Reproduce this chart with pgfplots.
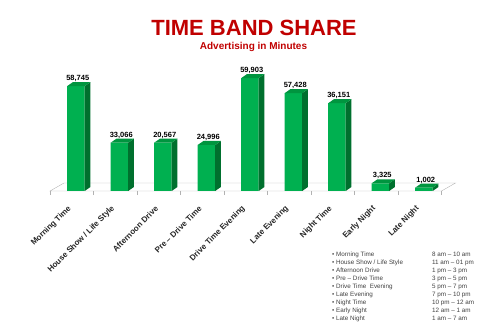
\documentclass[border=0pt]{standalone}
\usepackage{pgfplots}
\pgfplotsset{compat=1.18}
\usepackage{pgfplotstable}
\usepackage{fontspec}
\setmainfont{Liberation Sans}
\definecolor{frontc}{HTML}{00B050}
\definecolor{sidec}{HTML}{00702E}
\definecolor{topc}{HTML}{00953F}
\definecolor{titlered}{HTML}{C00000}
\definecolor{txt}{HTML}{262626}
\definecolor{leg}{HTML}{404040}

% x = category index, h = drawn bar height (as in the picture), lab = printed value
\pgfplotstableread{
x h lab
0 58745 58,745
1 27050 33,066
2 27050 20,567
3 25760 24,996
4 63200 59,903
5 54800 57,428
6 49150 36,151
7 4310 3,325
8 1850 1,002
}\bars

% side and top faces of a 3D bar, relative to the top centre of the front face
\pgfdeclareplotmark{barsidetop}{%
  \pgfpathmoveto{\pgfpoint{12.95pt}{-\barh pt}}%
  \pgfpathlineto{\pgfpoint{18.65pt}{4pt-\barh pt}}%
  \pgfpathlineto{\pgfpoint{18.65pt}{4pt}}%
  \pgfpathlineto{\pgfpoint{12.95pt}{0pt}}%
  \pgfpathclose
  \pgfsetfillcolor{sidec}\pgfusepath{fill}%
  \pgfpathmoveto{\pgfpoint{-4.55pt}{0pt}}%
  \pgfpathlineto{\pgfpoint{12.95pt}{0pt}}%
  \pgfpathlineto{\pgfpoint{18.65pt}{4pt}}%
  \pgfpathlineto{\pgfpoint{1.15pt}{4pt}}%
  \pgfpathclose
  \pgfsetfillcolor{topc}\pgfusepath{fill}%
}

\begin{document}
\begin{tikzpicture}
\path[use as bounding box] (0pt,0pt) rectangle (497pt,329pt);
\node[anchor=base, text=titlered, font=\fontsize{22}{24}\selectfont\bfseries] at (254pt,293pt) {TIME BAND SHARE};
\node[anchor=base, text=titlered, font=\fontsize{10}{12}\selectfont\bfseries] at (253.5pt,279pt) {Advertising in Minutes};

\begin{axis}[
  at={(50pt,138pt)}, anchor=south west,
  scale only axis, width=391.5pt, height=120pt,
  xmin=-0.5, xmax=8.5, ymin=0, ymax=67200,
  clip=false,
  axis x line*=bottom, axis y line=none,
  x axis line style={draw=none},
  xtick={0,...,8},
  xticklabels={Morning Time, House Show / Life Style, Afternoon Drive, Pre -- Drive Time, Drive Time Evening, Late Evening, Night Time, Early Night, Late Night},
  xticklabel style={xshift=0.5pt, yshift=-14pt, rotate=45, anchor=east, font=\fontsize{8}{9}\selectfont\bfseries, text=txt},
  major tick length=0pt,
  minor xtick={-0.5,0.5,...,8.5},
  minor tick length=4pt,
  tick align=outside,
  xtick style={draw=black!30},
]
\draw[draw=black!28, fill=white] (axis cs:-0.5,0) -- (axis cs:8.5,0) -- ([shift={(14pt,8pt)}]axis cs:8.5,0) -- ([shift={(14pt,8pt)}]axis cs:-0.5,0) -- cycle;
\addplot[ybar, bar width=17.5pt, bar shift=4.2pt, fill=frontc, draw=none] table[x=x, y=h] {\bars};
\addplot[only marks, mark=barsidetop,
  visualization depends on={\thisrow{h}/560 \as \barh},
  point meta=explicit symbolic,
  nodes near coords,
  every node near coord/.append style={anchor=base, yshift=5.5pt, xshift=6pt, inner sep=0pt, font=\fontsize{7.5}{9}\selectfont\bfseries, text=black},
] table[x=x, y=h, meta=lab] {\bars};
\end{axis}

\node[anchor=north west, align=left, inner sep=0pt, text=leg, font=\fontsize{6.3}{8}\selectfont] at (332pt,77.5pt) {%
\textbullet\ Morning Time\\
\textbullet\ House Show / Life Style\\
\textbullet\ Afternoon Drive\\
\textbullet\ Pre -- Drive Time\\
\textbullet\ Drive Time\ \ Evening\\
\textbullet\ Late Evening\\
\textbullet\ Night Time\\
\textbullet\ Early Night\\
\textbullet\ Late Night};
\node[anchor=north west, align=left, inner sep=0pt, text=leg, font=\fontsize{6.3}{8}\selectfont] at (432pt,77.5pt) {%
8 am -- 10 am\\
11 am -- 01 pm\\
1 pm -- 3 pm\\
3 pm -- 5 pm\\
5 pm -- 7 pm\\
7 pm -- 10 pm\\
10 pm -- 12 am\\
12 am -- 1 am\\
1 am -- 7 am};
\end{tikzpicture}
\end{document}
